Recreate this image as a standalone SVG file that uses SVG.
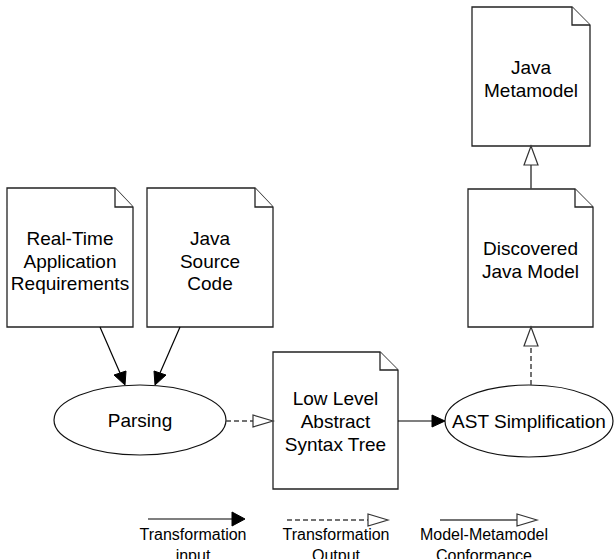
<svg xmlns="http://www.w3.org/2000/svg" width="614" height="559" viewBox="0 0 614 559">
<style>
.doc{fill:#fff;stroke:#222;stroke-width:1.3}
.el{fill:#fff;stroke:#111;stroke-width:1.2}
.t{font-family:"Liberation Sans",Arial,sans-serif;font-size:19px;fill:#000;text-anchor:middle}
.lg{font-family:"Liberation Sans",Arial,sans-serif;font-size:16px;fill:#000;text-anchor:middle}
.in{stroke:#000;stroke-width:1.2;fill:none}
.out{stroke:#444;stroke-width:1.5;fill:none;stroke-dasharray:5 3}
.conf{stroke:#444;stroke-width:1.5;fill:none}
.fh{fill:#000;stroke:#000;stroke-width:1}
.hh{fill:#fff;stroke:#333;stroke-width:1.2}
</style>
<rect width="614" height="559" fill="#fff"/>
<g id="req">
<path class="doc" d="M7 188H115L133 207V327H7Z"/>
<path class="doc" d="M115 188V207H133" fill="none"/>
<text class="t" x="70" y="245">Real-Time</text>
<text class="t" x="70" y="267.5">Application</text>
<text class="t" x="70" y="290">Requirements</text>
</g>
<g id="src">
<path class="doc" d="M147 188H255L273 207V327H147Z"/>
<path class="doc" d="M255 188V207H273" fill="none"/>
<text class="t" x="210" y="245">Java</text>
<text class="t" x="210" y="267.5">Source</text>
<text class="t" x="210" y="290">Code</text>
</g>
<g id="metamodel">
<path class="doc" d="M472 7H572L590 25V146H472Z"/>
<path class="doc" d="M572 7V25H590" fill="none"/>
<text class="t" x="531" y="74">Java</text>
<text class="t" x="531" y="97">Metamodel</text>
</g>
<g id="discovered">
<path class="doc" d="M468 189H575L593 207V327H468Z"/>
<path class="doc" d="M575 189V207H593" fill="none"/>
<text class="t" x="530.5" y="255">Discovered</text>
<text class="t" x="530.5" y="277.5">Java Model</text>
</g>
<g id="llast">
<path class="doc" d="M273 352H380L398 370V489H273Z"/>
<path class="doc" d="M380 352V370H398" fill="none"/>
<text class="t" x="335.5" y="405">Low Level</text>
<text class="t" x="335.5" y="428">Abstract</text>
<text class="t" x="335.5" y="451">Syntax Tree</text>
</g>
<g id="parsing">
<ellipse class="el" cx="140" cy="420" rx="86" ry="35"/>
<text class="t" x="140" y="427">Parsing</text>
</g>
<g id="ast">
<ellipse class="el" cx="529" cy="421" rx="84" ry="36"/>
<text class="t" x="529" y="428">AST Simplification</text>
</g>
<g id="connectors">
<line class="in" x1="100" y1="327" x2="120" y2="373"/>
<polygon class="fh" points="125,385 114,375 126,371"/>
<line class="in" x1="180" y1="327" x2="160" y2="373"/>
<polygon class="fh" points="155,385 154,371 166,375"/>
<line class="out" x1="226" y1="421" x2="253" y2="421"/>
<polygon class="hh" points="273,421 253,415 253,427"/>
<line class="in" x1="398" y1="421" x2="432" y2="421"/>
<polygon class="fh" points="445,421 432,415 432,427"/>
<line class="out" x1="531" y1="385" x2="531" y2="346"/>
<polygon class="hh" points="531,327 524,346 538,346"/>
<line class="conf" x1="531" y1="189" x2="531" y2="165"/>
<polygon class="hh" points="531,146 524,165 538,165"/>
</g>
<g id="legend">
<line class="in" x1="148" y1="519" x2="232" y2="519"/>
<polygon class="fh" points="245,519 232,512 232,526"/>
<line class="out" x1="287" y1="520" x2="368" y2="520"/>
<polygon class="hh" points="388,520 368,514 368,526"/>
<line class="conf" x1="440" y1="520" x2="517" y2="520"/>
<polygon class="hh" points="537,520 517,514 517,526"/>
<text class="lg" x="193" y="540">Transformation</text>
<text class="lg" x="193" y="561">input</text>
<text class="lg" x="336" y="540">Transformation</text>
<text class="lg" x="336" y="561">Output</text>
<text class="lg" x="484" y="540">Model-Metamodel</text>
<text class="lg" x="484" y="561">Conformance</text>
</g>
</svg>
